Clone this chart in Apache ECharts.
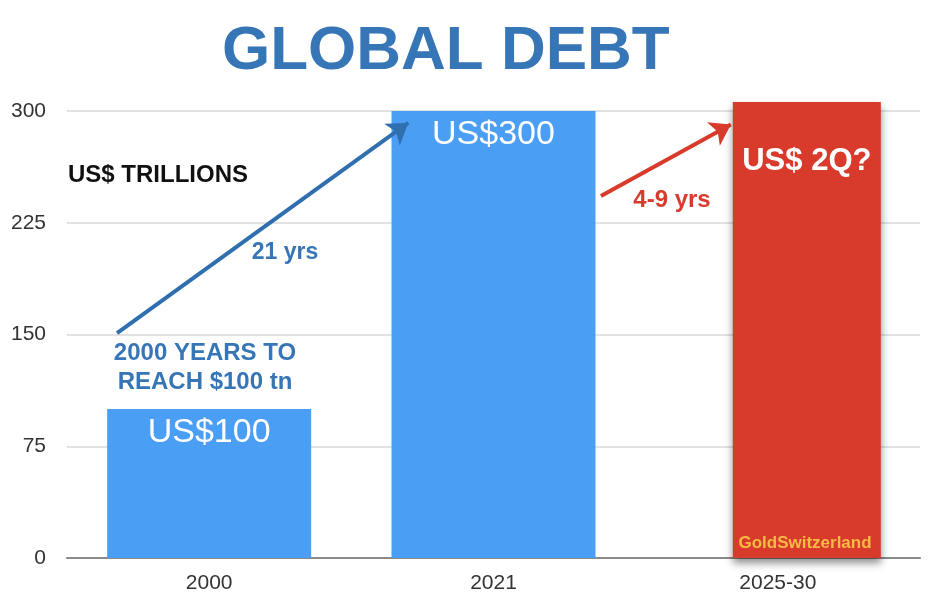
<!DOCTYPE html>
<html>
<head>
<meta charset="utf-8">
<script src="https://cdn.jsdelivr.net/npm/echarts@6/dist/echarts.min.js"></script>
<style>
  html, body { margin: 0; padding: 0; background: #fff; }
  #chart { width: 938px; height: 612px; }
</style>
</head>
<body>
<div id="chart"></div>
<script>
// data
const categories = ['2000', '2021', '2025-30'];
const debtValues = [100, 300, 306];
const barLabels = ['US$100', 'US$300', 'US$ 2Q?'];
const yMin = 0, yMax = 300, yStep = 75;
// arrows in (category position, value) space
const blueArrow = [[0.176, 151], [1.2, 292]];
const redArrow = [[1.878, 243], [2.335, 291]];

const BLUE = '#4a9ef4';
const RED = '#d83a2b';
const TEXT_BLUE = '#3776b6';

const blueData = debtValues.map((v, i) => i < 2 ? v : '-');
const redData = debtValues.map((v, i) => i === 2 ? v : '-');

const chart = echarts.init(document.getElementById('chart'));

const option = {
  animation: false,
  title: {
    text: 'GLOBAL DEBT',
    left: 217,
    top: 16,
    textStyle: { color: TEXT_BLUE, fontSize: 62, fontWeight: 'bold', fontFamily: 'Liberation Sans' }
  },
  grid: { left: 67, right: 18, top: 111, bottom: 54 },
  xAxis: [
    {
      type: 'category',
      data: categories,
      axisTick: { show: false },
      axisLine: { lineStyle: { color: '#8a8a8a', width: 2 } },
      axisLabel: { color: '#333', fontSize: 21, margin: 15, fontFamily: 'Liberation Sans' }
    },
    { type: 'category', data: categories, show: false },
    { type: 'value', min: 0, max: 3, show: false }
  ],
  yAxis: {
    type: 'value',
    min: yMin, max: yMax, interval: yStep,
    axisLine: { show: false },
    axisTick: { show: false },
    axisLabel: { color: '#333', fontSize: 21, margin: 21, fontFamily: 'Liberation Sans' },
    splitLine: { lineStyle: { color: '#e2e2e2', width: 2 } }
  },
  series: [
    {
      type: 'bar',
      xAxisIndex: 0,
      data: blueData,
      barWidth: 204,
      itemStyle: { color: BLUE },
      label: {
        show: true,
        position: 'insideTop',
        distance: 7,
        color: '#fff',
        fontSize: 34,
        fontFamily: 'Liberation Sans',
        formatter: p => barLabels[p.dataIndex]
      }
    },
    {
      type: 'bar',
      xAxisIndex: 1,
      data: ['-', '-', '-'],
      barWidth: 58,
      barGap: 0
    },
    {
      type: 'bar',
      xAxisIndex: 1,
      data: redData,
      barWidth: 148,
      barGap: 0,
      clip: false,
      z: 3,
      itemStyle: {
        color: RED,
        shadowColor: 'rgba(0,0,0,0.45)',
        shadowBlur: 8,
        shadowOffsetY: 5
      },
      label: {
        show: true,
        position: 'insideTop',
        distance: 44,
        color: '#fff',
        fontSize: 31,
        fontWeight: 'bold',
        fontFamily: 'Liberation Sans',
        formatter: p => barLabels[p.dataIndex]
      }
    },
    {
      type: 'line',
      xAxisIndex: 2,
      data: [],
      silent: true,
      z: 5,
      markLine: {
        silent: true,
        symbol: ['none', 'arrow'],
        symbolSize: 20,
        label: { show: false },
        data: [
          [{ coord: blueArrow[0], lineStyle: { color: '#2f6fb0', width: 4, type: 'solid' } }, { coord: blueArrow[1] }],
          [{ coord: redArrow[0], lineStyle: { color: RED, width: 4, type: 'solid' } }, { coord: redArrow[1] }]
        ]
      }
    }
  ],
  graphic: [
    {
      type: 'text', x: 68, y: 175,
      style: { text: 'US$ TRILLIONS', fill: '#111', font: 'bold 24px "Liberation Sans"', verticalAlign: 'middle' }
    },
    {
      type: 'text', x: 285, y: 253,
      style: { text: '21 yrs', fill: TEXT_BLUE, font: 'bold 23px "Liberation Sans"', align: 'center', verticalAlign: 'middle' }
    },
    {
      type: 'text', x: 205, y: 368,
      style: {
        text: '2000 YEARS TO\nREACH $100 tn',
        fill: TEXT_BLUE,
        font: 'bold 24px "Liberation Sans"',
        align: 'center',
        verticalAlign: 'middle',
        lineHeight: 29
      }
    },
    {
      type: 'text', x: 672, y: 200,
      style: { text: '4-9 yrs', fill: RED, font: 'bold 24px "Liberation Sans"', align: 'center', verticalAlign: 'middle' }
    },
    {
      type: 'text', x: 805, y: 543, z: 10,
      style: { text: 'GoldSwitzerland', fill: '#f7bb45', font: 'bold 17px "Liberation Sans"', align: 'center', verticalAlign: 'middle' }
    }
  ]
};

chart.setOption(option);
</script>
</body>
</html>
